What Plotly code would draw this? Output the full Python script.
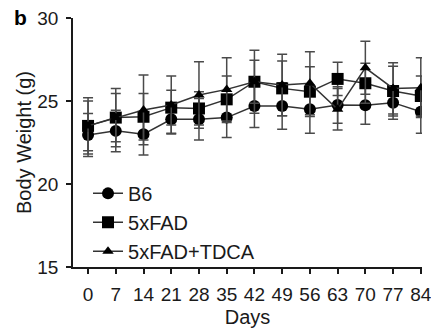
import plotly.graph_objects as go

days = [0, 7, 14, 21, 28, 35, 42, 49, 56, 63, 70, 77, 84]
tick_labels = [str(d) for d in days]

b6 = [22.95, 23.2, 23.0, 23.9, 23.9, 24.0, 24.7, 24.7, 24.5, 24.76, 24.75, 24.9, 24.35]
b6_err = [1.3, 1.25, 1.25, 0.85, 1.25, 1.2, 1.3, 1.4, 1.45, 1.1, 1.15, 1.0, 1.3]

fad = [23.5, 24.0, 24.05, 24.6, 24.55, 25.1, 26.16, 25.76, 25.56, 26.33, 26.07, 25.6, 25.3]
fad_err = [1.5, 1.45, 1.4, 1.05, 1.0, 1.4, 1.3, 1.65, 1.5, 1.0, 1.2, 1.5, 1.2]

tdca = [23.5, 24.0, 24.46, 24.76, 25.36, 25.7, 26.16, 25.96, 26.07, 24.5, 27.0, 25.76, 25.8]
tdca_err = [1.7, 1.75, 2.1, 1.75, 2.0, 1.9, 1.9, 1.85, 1.9, 1.25, 1.6, 1.55, 1.8]

names = ["B6", "5xFAD", "5xFAD+TDCA"]
symbols = ["circle", "square", "triangle-up"]
sizes = [12, 12, 10]
series = [b6, fad, tdca]
errors = [b6_err, fad_err, tdca_err]

FONT = "Liberation Sans, Arial, sans-serif"

fig = go.Figure()
for name, sym, sz, ys, es in zip(names, symbols, sizes, series, errors):
    fig.add_trace(go.Scatter(
        x=days, y=ys, name=name, mode="lines+markers",
        legendgroup=name,
        line=dict(color="#333333", width=1.5),
        marker=dict(symbol=sym, size=sz, color="black"),
        error_y=dict(type="data", array=es, visible=True,
                     color="#4a4a4a", thickness=1.5, width=5),
    ))

fig.update_layout(
    width=431, height=335,
    margin=dict(l=73, r=9, t=18, b=68),
    paper_bgcolor="white", plot_bgcolor="white",
    font=dict(family=FONT, size=19, color="#1a1a1a"),
    showlegend=True,
    legend=dict(x=0.043, y=0.374, xanchor="left", yanchor="top",
                bgcolor="rgba(0,0,0,0)", font=dict(size=20),
                tracegroupgap=0, itemwidth=30),
    xaxis=dict(range=[-3.8, 84.3], tickmode="array", tickvals=days,
               ticktext=tick_labels, showline=True, linecolor="#1a1a1a",
               linewidth=1.5, ticks="outside", ticklen=5, tickwidth=1.5,
               tickcolor="#1a1a1a", showgrid=False, zeroline=False,
               automargin=False, ticklabelstandoff=4, ticklabeloverflow="allow",
               title=dict(text="Days", font=dict(size=20), standoff=6)),
    yaxis=dict(range=[15, 30], tickvals=[15, 20, 25, 30], showline=True,
               linecolor="#1a1a1a", linewidth=1.5, ticks="outside",
               ticklen=5, tickwidth=1.5, tickcolor="#1a1a1a",
               showgrid=False, zeroline=False, automargin=False,
               ticklabelstandoff=4,
               title=dict(text="Body Weight (g)", font=dict(size=20), standoff=0)),
    annotations=[dict(text="<b>b</b>", x=-0.175, y=1.004, xref="paper", yref="paper",
                      showarrow=False, font=dict(size=21, color="black"),
                      xanchor="left", yanchor="middle")],
)

fig.write_html("out.html", config={"displayModeBar": False},
               post_script="document.body.style.margin='0';")
